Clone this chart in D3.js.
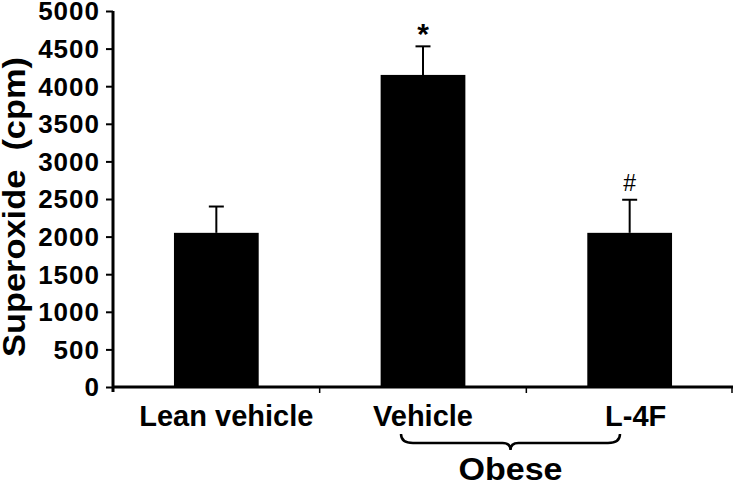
<!DOCTYPE html>
<html>
<head>
<meta charset="utf-8">
<script src="https://cdn.jsdelivr.net/npm/d3@7"></script>
<style>
  html, body { margin: 0; padding: 0; background: #fff; }
  svg { display: block; font-family: "Liberation Sans", Arial, sans-serif; }
</style>
</head>
<body>
<svg id="chart" width="733" height="485"></svg>
<script>
// ---- data ----
const categories = ["Lean vehicle", "Vehicle", "L-4F"];
const means = [2050, 4150, 2050];
const errors = [350, 380, 440];
const marks = ["", "*", "#"];
const yTicks = [0, 500, 1000, 1500, 2000, 2500, 3000, 3500, 4000, 4500, 5000];
const groupLabel = "Obese";
const yTitle = "Superoxide  (cpm)";

// ---- layout ----
const svg = d3.select("#chart");
const x = d3.scaleBand().domain(categories).range([113, 733]).paddingInner(0).paddingOuter(0);
const y = d3.scaleLinear().domain([0, 5000]).range([387, 11]);
const barW = x.bandwidth() * 0.41;
const labelDx = [10, 0, 6];

// bars
svg.selectAll("rect.bar").data(categories).join("rect")
  .attr("class", "bar")
  .attr("x", d => x(d) + x.bandwidth() / 2 - barW / 2)
  .attr("width", barW)
  .attr("y", (d, i) => y(means[i]))
  .attr("height", (d, i) => y(0) - y(means[i]))
  .attr("fill", "#000");

// error bars
const eb = svg.append("g");
categories.forEach((c, i) => {
  const cx = x(c) + x.bandwidth() / 2;
  eb.append("line").attr("x1", cx).attr("x2", cx)
    .attr("y1", y(means[i])).attr("y2", y(means[i] + errors[i]))
    .attr("stroke", "#000").attr("stroke-width", 2);
  eb.append("line").attr("x1", cx - 7.5).attr("x2", cx + 7.5)
    .attr("y1", y(means[i] + errors[i])).attr("y2", y(means[i] + errors[i]))
    .attr("stroke", "#000").attr("stroke-width", 2);
});

// significance marks
categories.forEach((c, i) => {
  if (!marks[i]) return;
  const cx = x(c) + x.bandwidth() / 2;
  const top = y(means[i] + errors[i]);
  svg.append("text")
    .attr("x", cx)
    .attr("y", marks[i] === "*" ? top - 2 : top - 9)
    .attr("text-anchor", "middle")
    .attr("font-size", marks[i] === "*" ? 30 : 23)
    .attr("font-weight", marks[i] === "*" ? "bold" : "normal")
    .text(marks[i]);
});

// y axis
const yAxis = svg.append("g").attr("transform", "translate(113,0)")
  .call(d3.axisLeft(y).tickValues(yTicks).tickFormat(d3.format("d")).tickSize(7).tickPadding(6));
yAxis.select(".domain").attr("stroke", "#000").attr("stroke-width", 3)
  .attr("d", `M0,${y(5000)}V${y(0) + 5}`);
yAxis.selectAll(".tick line").attr("stroke", "#000").attr("stroke-width", 2);
yAxis.selectAll(".tick text")
  .attr("font-size", 26).attr("font-weight", "bold").attr("fill", "#000")
  .attr("dy", "0.34em")
  .attr("font-family", "'Liberation Sans', Arial, sans-serif")
  .style("letter-spacing", "1px");

// x axis line
svg.append("line").attr("x1", 113).attr("x2", 733).attr("y1", y(0)).attr("y2", y(0))
  .attr("stroke", "#000").attr("stroke-width", 3);
// x boundary ticks
categories.forEach(c => {
  const bx = Math.min(x(c) + x.bandwidth(), 732);
  svg.append("line").attr("x1", bx).attr("x2", bx).attr("y1", y(0)).attr("y2", y(0) + 6)
    .attr("stroke", "#000").attr("stroke-width", 1.5);
});

// category labels
categories.forEach((c, i) => {
  svg.append("text")
    .attr("x", x(c) + x.bandwidth() / 2 + labelDx[i])
    .attr("y", 426)
    .attr("text-anchor", "middle")
    .attr("font-size", 29).attr("font-weight", "bold")
    .text(c);
});

// brace under Vehicle & L-4F
const bx1 = 401, bx2 = 620, bmid = (bx1 + bx2) / 2;
const by0 = 434, by1 = 443, by2 = 450;
svg.append("path")
  .attr("d", `M${bx1},${by0} Q${bx1},${by1} ${bx1 + 12},${by1} L${bmid - 8},${by1} Q${bmid},${by1} ${bmid},${by2} Q${bmid},${by1} ${bmid + 8},${by1} L${bx2 - 12},${by1} Q${bx2},${by1} ${bx2},${by0}`)
  .attr("fill", "none").attr("stroke", "#000").attr("stroke-width", 2.5);

svg.append("text")
  .attr("x", bmid).attr("y", 480)
  .attr("text-anchor", "middle")
  .attr("font-size", 32).attr("font-weight", "bold")
  .attr("textLength", 104).attr("lengthAdjust", "spacingAndGlyphs")
  .text(groupLabel);

// y title
svg.append("text")
  .attr("transform", `translate(25,207) rotate(-90)`)
  .attr("text-anchor", "middle")
  .attr("font-size", 31).attr("font-weight", "bold")
  .attr("textLength", 300).attr("lengthAdjust", "spacingAndGlyphs")
  .style("white-space", "pre")
  .text(yTitle);
</script>
</body>
</html>
